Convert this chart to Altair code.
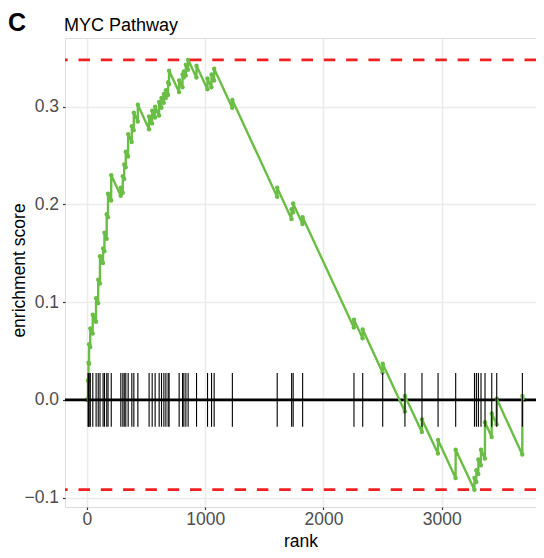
import altair as alt
import pandas as pd

# ---- data ----
HIT_RANKS = [10, 14, 19, 29, 50, 78, 96, 111, 137, 149, 168, 179, 206,
             287, 304, 316, 329, 349, 380, 397, 431,
             526, 552, 577, 611, 631, 651, 668, 687, 695,
             780, 809, 820, 837, 856, 927, 1020, 1054, 1076, 1230,
             1609, 1731, 1744, 1824, 2258, 2332, 2501, 2689, 2833, 2969,
             3118, 3277, 3293, 3310, 3332, 3366, 3423, 3465, 3682]
ES_BOTTOM = [0.000, 0.019, 0.037, 0.054, 0.068, 0.080, 0.099, 0.119, 0.140, 0.152, 0.165, 0.187, 0.204,
             0.209, 0.212, 0.226, 0.238, 0.249, 0.264, 0.276, 0.285,
             0.277, 0.283, 0.289, 0.291, 0.299, 0.304, 0.309, 0.312, 0.323,
             0.315, 0.320, 0.330, 0.332, 0.338, 0.330, 0.318, 0.320, 0.327, 0.299,
             0.208, 0.185, 0.192, 0.180, 0.074, 0.063, 0.028, -0.012, -0.033, -0.055,
             -0.080, -0.092, -0.084, -0.076, -0.067, -0.060, -0.038, -0.025, -0.056]
ES_TOP = [0.020, 0.038, 0.057, 0.073, 0.087, 0.104, 0.123, 0.147, 0.155, 0.171, 0.190, 0.211, 0.230,
          0.217, 0.229, 0.241, 0.254, 0.272, 0.280, 0.294, 0.302,
          0.290, 0.296, 0.300, 0.305, 0.309, 0.313, 0.317, 0.325, 0.337,
          0.327, 0.333, 0.336, 0.343, 0.348, 0.342, 0.329, 0.333, 0.339, 0.307,
          0.217, 0.195, 0.201, 0.187, 0.082, 0.072, 0.037, 0.004, -0.020, -0.041,
          -0.051, -0.080, -0.072, -0.061, -0.051, -0.023, -0.014, 0.001, 0.004]
END_RANK = 3697

X_TICKS = [0, 1000, 2000, 3000]
Y_TICKS = [-0.1, 0.0, 0.1, 0.2, 0.3]
X_DOMAIN = [-185, 3797]
Y_DOMAIN = [-0.1097, 0.3704]

PANEL_TAG = "C"
PLOT_TITLE = "MYC Pathway"

GREEN = "#6BBE45"
FONT = "Liberation Sans"

# ---- tables built from the arrays ----
rows = [{"x": 0, "y": 0.0, "o": 0}]
k = 1
for r, b, t in zip(HIT_RANKS, ES_BOTTOM, ES_TOP):
    rows.append({"x": r - 1, "y": b, "o": k}); k += 1
    rows.append({"x": r, "y": t, "o": k}); k += 1
rows.append({"x": END_RANK, "y": 0.0, "o": k})
curve = pd.DataFrame(rows)

es_max = max(ES_TOP)
es_min = min(ES_BOTTOM)
half = (es_max - es_min) / 16
ticks = pd.DataFrame({"x": HIT_RANKS,
                      "lo": [-half] * len(HIT_RANKS),
                      "hi": [half] * len(HIT_RANKS)})
extremes = pd.DataFrame({"y": [es_max, es_min]})
zero = pd.DataFrame({"y": [0.0]})
labels = pd.DataFrame({"t": [PANEL_TAG]})
titles = pd.DataFrame({"t": [PLOT_TITLE]})

x_scale = alt.Scale(domain=X_DOMAIN, nice=False, zero=False)
y_scale = alt.Scale(domain=Y_DOMAIN, nice=False, zero=False)

x_axis = alt.Axis(title="rank", values=X_TICKS, format="d", grid=True,
                  gridColor="#EBEBEB", gridWidth=1.6, domain=False,
                  ticks=True, tickSize=2.5, tickColor="#333333", tickWidth=1.2,
                  labelFont=FONT, labelFontSize=17.5, labelColor="#4D4D4D",
                  labelPadding=1, titleFont=FONT, titleFontSize=17.5,
                  titleFontWeight="normal", titleColor="black",
                  titleY=39, titleBaseline="alphabetic")
y_axis = alt.Axis(title="enrichment score", values=Y_TICKS, format=".1f", grid=True,
                  gridColor="#EBEBEB", gridWidth=1.6, domain=False,
                  ticks=True, tickSize=2.5, tickColor="#333333", tickWidth=1.2,
                  labelFont=FONT, labelFontSize=17.5, labelColor="#4D4D4D",
                  labelPadding=4, titleFont=FONT, titleFontSize=17.5,
                  titleFontWeight="normal", titleColor="black",
                  titleAngle=270, titleX=-41, titleY=232, titleBaseline="alphabetic")

points = alt.Chart(curve).mark_circle(size=20, color=GREEN, opacity=1).encode(
    x=alt.X("x:Q", scale=x_scale, axis=x_axis),
    y=alt.Y("y:Q", scale=y_scale, axis=y_axis),
)
red = alt.Chart(extremes).mark_rule(color="#F02020", strokeWidth=2.8,
                                    strokeDash=[11.5, 10.8]).encode(
    y=alt.Y("y:Q", scale=y_scale, axis=y_axis)
)
black = alt.Chart(zero).mark_rule(color="black", strokeWidth=2.6).encode(
    y=alt.Y("y:Q", scale=y_scale, axis=y_axis)
)
line = alt.Chart(curve).mark_line(color=GREEN, strokeWidth=2.4).encode(
    x=alt.X("x:Q", scale=x_scale, axis=x_axis),
    y=alt.Y("y:Q", scale=y_scale, axis=y_axis),
    order="o:Q",
)
gene_ticks = alt.Chart(ticks).mark_rule(color="black", strokeWidth=1.1).encode(
    x=alt.X("x:Q", scale=x_scale, axis=x_axis),
    y=alt.Y("lo:Q", scale=y_scale, axis=y_axis),
    y2="hi:Q",
)
panel_label = alt.Chart(labels).mark_text(font=FONT, fontSize=25,
                                          fontWeight="bold", align="left",
                                          baseline="alphabetic", color="black").encode(
    x=alt.value(-57), y=alt.value(-7), text="t:N"
)
plot_title = alt.Chart(titles).mark_text(font=FONT, fontSize=18,
                                         fontWeight="normal", align="left",
                                         baseline="alphabetic", color="black").encode(
    x=alt.value(-1), y=alt.value(-7), text="t:N"
)

chart = alt.layer(points, red, black, line, gene_ticks, panel_label, plot_title).properties(
    width=471, height=469,
    padding={"left": 57, "top": 30, "right": 0, "bottom": 43},
    autosize=alt.AutoSizeParams(type="none"),
).configure_view(stroke=None).configure(background="white")

chart.save("out.html", embed_options={"renderer": "svg", "actions": False})
